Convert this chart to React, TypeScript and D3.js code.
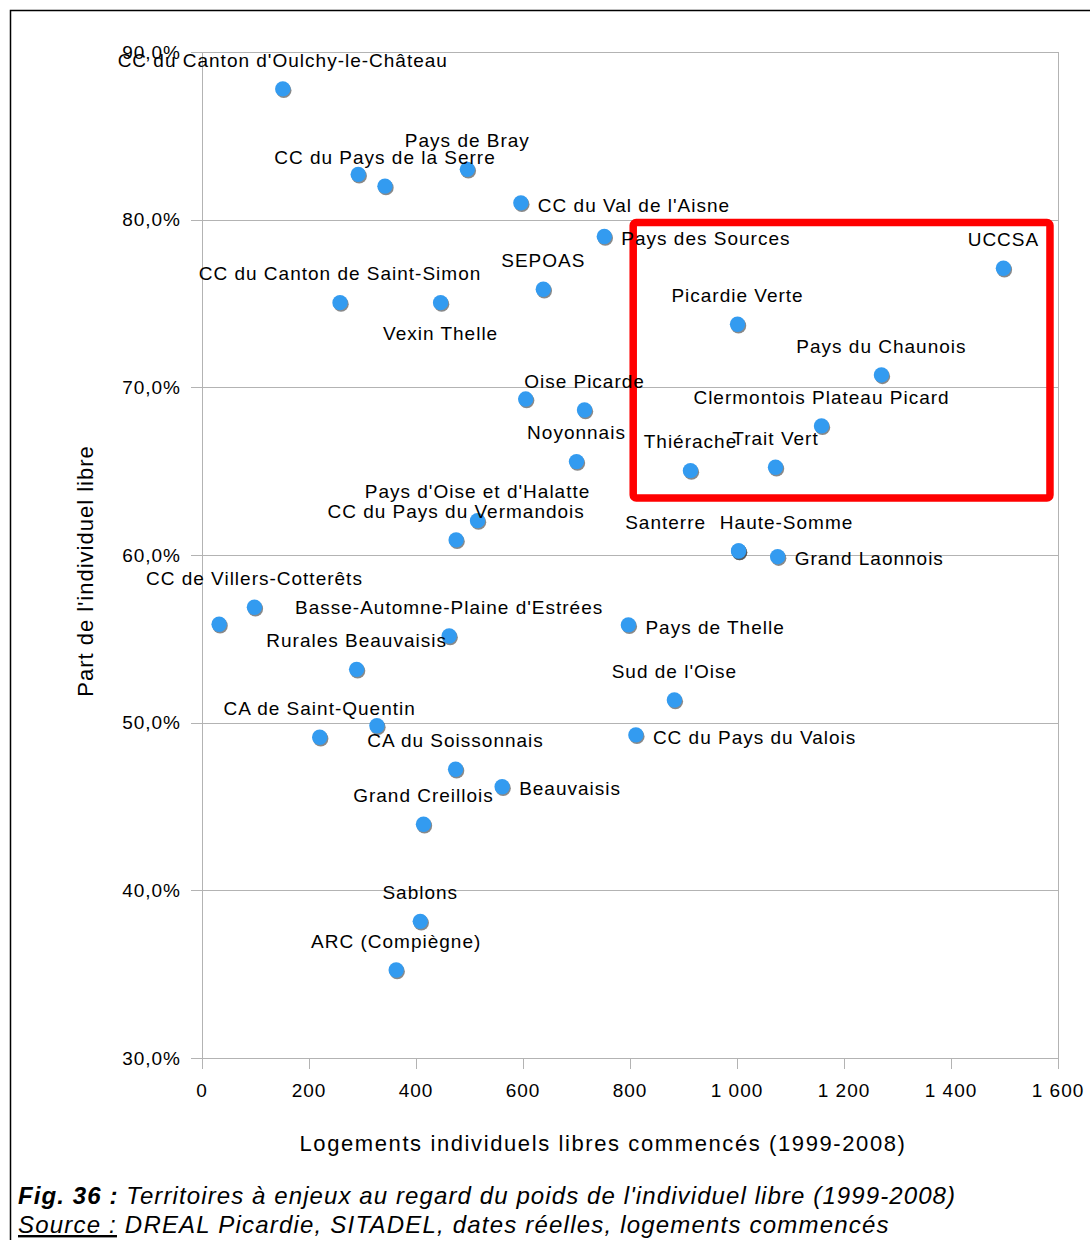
import React from 'react';
import * as d3 from 'd3';

// ---- data ----
const territoires = [
  "CC du Canton d'Oulchy-le-Château",
  "",
  "CC du Pays de la Serre",
  "Pays de Bray",
  "CC du Val de l'Aisne",
  "Pays des Sources",
  "SEPOAS",
  "CC du Canton de Saint-Simon",
  "Vexin Thelle",
  "UCCSA",
  "Picardie Verte",
  "Pays du Chaunois",
  "",
  "Oise Picarde",
  "Clermontois Plateau Picard",
  "Noyonnais",
  "Thiérache",
  "Trait Vert",
  "Pays d'Oise et d'Halatte",
  "CC du Pays du Vermandois",
  "Santerre",
  "Haute-Somme",
  "Grand Laonnois",
  "CC de Villers-Cotterêts",
  "",
  "Basse-Automne-Plaine d'Estrées",
  "Pays de Thelle",
  "Rurales Beauvaisis",
  "Sud de l'Oise",
  "CC du Pays du Valois",
  "",
  "CA de Saint-Quentin",
  "CA du Soissonnais",
  "Beauvaisis",
  "Grand Creillois",
  "Sablons",
  "ARC (Compiègne)",
];

const logementsLibres = [
  151, 292, 342, 496, 596, 752, 638, 258, 446, 1498, 1001, 1270, 605, 715, 1158,
  700, 913, 1072, 515, 475, 1003, 1003, 1076, 98, 32, 462, 797, 289, 883, 811,
  327, 220, 474, 561, 414, 408, 363,
];

const partIndividuelLibre = [
  87.8, 82.7, 82.0, 83.0, 81.0, 79.0, 75.85, 75.05, 75.05, 77.1, 73.76, 70.74, 69.3,
  68.65, 67.7, 65.57, 65.03, 65.23, 62.05, 60.9, 60.24, 60.24, 59.9, 56.88, 55.87,
  55.17, 55.83, 53.18, 51.35, 49.27, 49.82, 49.13, 47.22, 46.18, 43.94, 38.15, 35.25,
];

const xTickValues = [0, 200, 400, 600, 800, 1000, 1200, 1400, 1600];
const yTickValues = [30, 40, 50, 60, 70, 80, 90];

// highlighted zone (data units)
const zoneLogements = [806, 1585];
const zonePart = [63.4, 79.83];

const xTitle = 'Logements individuels libres commencés (1999-2008)';
const yTitle = "Part de l'individuel libre";

// ---- layout ----
const W = 1090;
const H = 1240;
const plot = { left: 202, right: 1058, top: 52, bottom: 1058 };

// label placement (layout, not data)
const labelPlacement = [
  'top', 'none', 'top', 'top', 'right', 'right', 'top', 'top', 'bottom', 'top', 'top', 'top', 'none',
  'top', 'top', 'top', 'top', 'top', 'top', 'top', 'top', 'top', 'right', 'top', 'none',
  'top', 'right', 'top', 'top', 'right', 'none', 'top', 'top', 'right', 'top', 'top', 'top',
];
const labelShift: Record<number, number> = { 20: -73, 21: 48 };

const FONT = "'Liberation Sans', Arial, sans-serif";

export default function App() {
  const x = d3.scaleLinear().domain([0, 1600]).range([plot.left, plot.right]);
  const y = d3.scaleLinear().domain([30, 90]).range([plot.bottom, plot.top]);
  const fx = (v: number) => d3.format(',')(v).replace(/,/g, ' ');
  const fy = (v: number) => d3.format('.1f')(v).replace('.', ',') + '%';

  const points = logementsLibres.map((v, i) => ({
    name: territoires[i],
    cx: x(v),
    cy: y(partIndividuelLibre[i]),
    pos: labelPlacement[i],
    dx: labelShift[i] || 0,
  }));

  const labelStyle = { fontFamily: FONT, fontSize: 19, letterSpacing: 1 } as const;

  return (
    <svg width={W} height={H} style={{ position: 'absolute', left: 0, top: 0, background: '#fff' }}>
      <rect x={0} y={0} width={W} height={H} fill="#fff" />
      {/* outer frame */}
      <rect x={10.5} y={10.5} width={W + 20} height={H + 20} fill="none" stroke="#000" strokeWidth={1.5} />

      {/* grid */}
      {yTickValues.map((t) => (
        <line key={'gy' + t} x1={plot.left - 11} x2={plot.right} y1={Math.round(y(t)) + 0.5} y2={Math.round(y(t)) + 0.5} stroke="#b3b3b3" strokeWidth={1} />
      ))}
      {xTickValues.map((t) => (
        <line key={'tx' + t} x1={Math.round(x(t)) + 0.5} x2={Math.round(x(t)) + 0.5} y1={plot.bottom} y2={plot.bottom + 11} stroke="#b3b3b3" strokeWidth={1} />
      ))}
      <line x1={plot.left + 0.5} x2={plot.left + 0.5} y1={plot.top} y2={plot.bottom} stroke="#b3b3b3" />
      <line x1={plot.right + 0.5} x2={plot.right + 0.5} y1={plot.top} y2={plot.bottom} stroke="#b3b3b3" />

      {/* y tick labels */}
      {yTickValues.map((t) => (
        <text key={'ly' + t} x={181} y={y(t)} dy="0.35em" textAnchor="end" style={labelStyle} fill="#000">
          {fy(t)}
        </text>
      ))}
      {/* x tick labels */}
      {xTickValues.map((t) => (
        <text key={'lx' + t} x={x(t)} y={1090} dy="0.35em" textAnchor="middle" style={labelStyle} fill="#000">
          {fx(t)}
        </text>
      ))}

      {/* axis titles */}
      <text x={603} y={1143} dy="0.35em" textAnchor="middle" style={{ fontFamily: FONT, fontSize: 22, letterSpacing: 1.6 }}>
        {xTitle}
      </text>
      <text transform="translate(85,571) rotate(-90)" dy="0.35em" textAnchor="middle" style={{ fontFamily: FONT, fontSize: 22, letterSpacing: 1 }}>
        {yTitle}
      </text>

      {/* highlighted zone */}
      <rect
        x={x(zoneLogements[0])}
        y={y(zonePart[1])}
        width={x(zoneLogements[1]) - x(zoneLogements[0])}
        height={y(zonePart[0]) - y(zonePart[1])}
        rx={3}
        fill="none"
        stroke="#ff0000"
        strokeWidth={7.5}
      />

      {/* points */}
      {points.map((p, i) => (
        <g key={'p' + i}>
          <circle cx={p.cx + 1} cy={p.cy + 1.5} r={7.7} fill="#3a3a3a" opacity={0.6} />
          <circle cx={p.cx} cy={p.cy} r={7.7} fill="#339bf0" />
        </g>
      ))}

      {/* labels */}
      {points.map((p, i) => {
        if (p.pos === 'none' || !p.name) return null;
        if (p.pos === 'right')
          return (
            <text key={'t' + i} x={p.cx + 17} y={p.cy + 2} dy="0.35em" textAnchor="start" style={labelStyle}>
              {p.name}
            </text>
          );
        if (p.pos === 'bottom')
          return (
            <text key={'t' + i} x={p.cx + p.dx} y={p.cy + 31} dy="0.35em" textAnchor="middle" style={labelStyle}>
              {p.name}
            </text>
          );
        return (
          <text key={'t' + i} x={p.cx + p.dx} y={p.cy - 29} dy="0.35em" textAnchor="middle" style={labelStyle}>
            {p.name}
          </text>
        );
      })}

      {/* caption */}
      <text x={18} y={1204} style={{ fontFamily: FONT, fontSize: 24, fontStyle: 'italic', letterSpacing: 1.1 }}>
        <tspan fontWeight="bold">Fig. 36 :</tspan>
        <tspan> Territoires à enjeux au regard du poids de l'individuel libre (1999-2008)</tspan>
      </text>
      <text x={18} y={1233} style={{ fontFamily: FONT, fontSize: 24, fontStyle: 'italic', letterSpacing: 1.2 }}>
        <tspan style={{ textDecoration: 'underline' }}>Source :</tspan>
        <tspan> DREAL Picardie, SITADEL, dates réelles, logements commencés</tspan>
      </text>
    </svg>
  );
}
